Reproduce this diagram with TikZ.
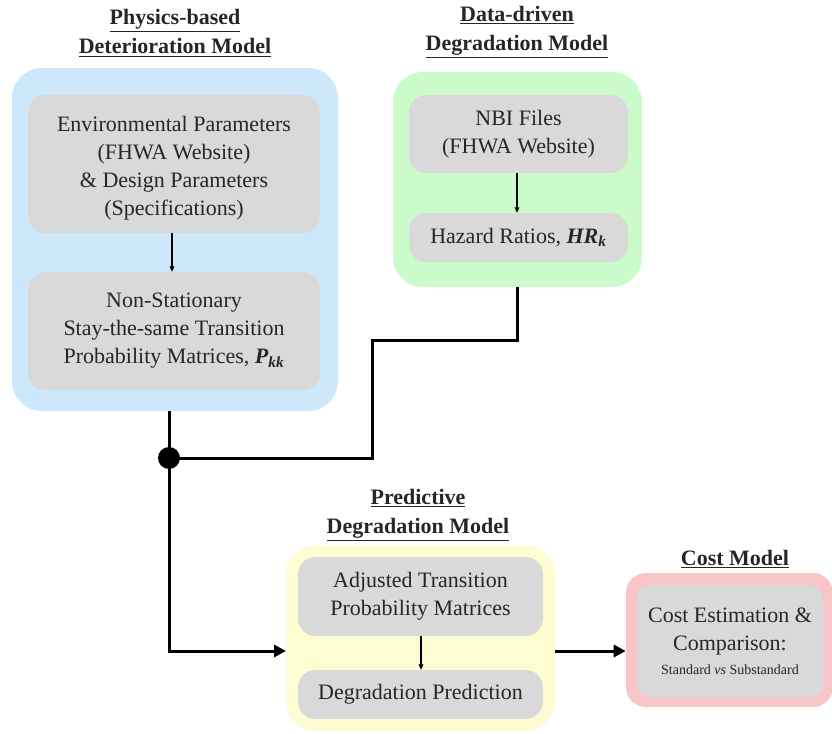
\documentclass[tikz,border=0pt]{standalone}
\usepackage{fontspec}
\setmainfont{Liberation Serif}
\usetikzlibrary{arrows.meta}
\definecolor{bluebg}{HTML}{CDE8FB}
\definecolor{greenbg}{HTML}{CCFBCB}
\definecolor{yellowbg}{HTML}{FEFDD2}
\definecolor{pinkbg}{HTML}{F8C6C8}
\definecolor{graybox}{HTML}{D9D9D9}
\tikzset{
  outerbox/.style={fill=#1, draw=none, rounded corners=22.5pt, inner sep=0pt},
  innerbox/.style={fill=graybox, draw=none, rounded corners=13pt, align=center, inner sep=0pt,
    font=\fontsize{16.5}{21}\selectfont, text=black!85},
  titletext/.style={align=center, font=\fontsize{16.5}{21.75}\selectfont\bfseries, text=black!85},
  thickline/.style={line width=2.25pt, black},
  thinarrow/.style={line width=0.9pt, black, -{Triangle[length=4pt,width=3.5pt]}},
  thickarrow/.style={line width=2.25pt, black, -{Triangle[length=9pt,width=9pt]}},
}
\begin{document}
\begin{tikzpicture}[x=0.75pt,y=-0.75pt]
\useasboundingbox (0,0) rectangle (832,734);
% outer boxes
\node[outerbox=bluebg, minimum width=326*0.75pt, minimum height=343*0.75pt] (blue) at (175,239.5) {};
\node[outerbox=greenbg, minimum width=249*0.75pt, minimum height=215*0.75pt] (green) at (517.5,179.5) {};
\node[outerbox=yellowbg, minimum width=269*0.75pt, minimum height=186*0.75pt] (yellow) at (420.5,638) {};
\node[outerbox=pinkbg, rounded corners=15pt, minimum width=207*0.75pt, minimum height=134*0.75pt] (pink) at (729.5,640) {};
% titles
\node[titletext] (tphys) at (175,33) {\underline{Physics-based}\\\underline{Deterioration Model}};
\node[titletext] (tdata) at (517,32) {\underline{Data-driven}\\\underline{Degradation Model}};
\node[titletext] (tpred) at (418,515) {\underline{Predictive}\\\underline{Degradation Model}};
\node[titletext] (tcost) at (735,559) {\underline{Cost Model}};
% inner boxes
\node[innerbox, minimum width=292*0.75pt, minimum height=138*0.75pt] (env) at (174,164)
  {\\[-3pt]Environmental Parameters\\(FHWA Website)\\\& Design Parameters\\(Specifications)};
\node[innerbox, minimum width=292*0.75pt, minimum height=118*0.75pt] (nonstat) at (174,331)
  {Non-Stationary\\Stay-the-same Transition\\Probability Matrices, \textbf{\textit{P\textsubscript{kk}}}};
\node[innerbox, minimum width=219*0.75pt, minimum height=78*0.75pt] (nbi) at (518.5,134)
  {NBI Files\\(FHWA Website)};
\node[innerbox, minimum width=219*0.75pt, minimum height=49*0.75pt] (hazard) at (518.5,237.5)
  {Hazard Ratios, \textbf{\textit{HR\textsubscript{k}}}};
\node[innerbox, minimum width=245*0.75pt, minimum height=79*0.75pt] (adj) at (420.5,596.5)
  {Adjusted Transition\\Probability Matrices};
\node[innerbox, minimum width=245*0.75pt, minimum height=49*0.75pt] (degpred) at (420.5,694.5)
  {Degradation Prediction};
\node[innerbox, rounded corners=10pt, minimum width=186*0.75pt, minimum height=112*0.75pt] (cost) at (730,641)
  {Cost Estimation \&\\Comparison:\\[-3pt]{\fontsize{10.5}{14}\selectfont Standard \textit{vs} Substandard}};
% small arrows
\draw[thinarrow] (env.south -| 172,0) -- (nonstat.north -| 172,0);
\draw[thinarrow] (nbi.south -| 517,0) -- (hazard.north -| 517,0);
\draw[thinarrow] (adj.south -| 421,0) -- (degpred.north -| 421,0);
% junction
\node[circle, fill=black, inner sep=0pt, minimum size=16.5pt] (dot) at (169,458) {};
\coordinate (gdown) at (517,287);
\coordinate (bend1) at (517,341);
\coordinate (bend2) at (372,341);
\coordinate (bend3) at (372,458);
\coordinate (yin) at (286,651);
\draw[thickline] (gdown) -- (bend1) -- (bend2) -- (bend3) -- (dot.center);
\draw[thickline] (dot |- blue.south) -- (dot.center);
\draw[thickarrow] (dot.center) |- (yin);
\coordinate (yout) at (yellow.east |- yin);
\draw[thickarrow] (yout) -- (yout -| pink.west);
\end{tikzpicture}
\end{document}
